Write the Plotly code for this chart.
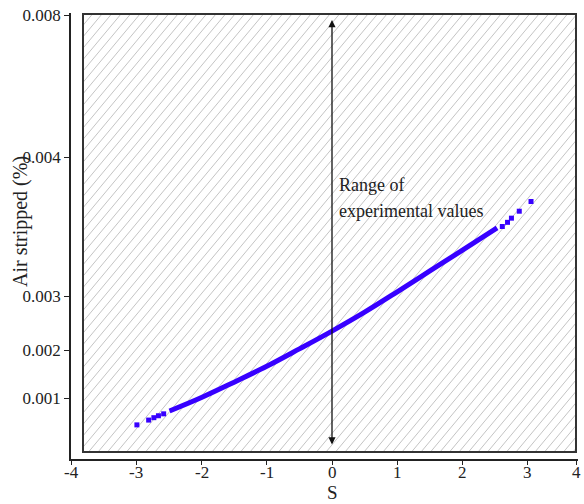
import numpy as np
import plotly.graph_objects as go

# ---- data ----
S_LINE = [-2.49, -2.0, -1.5, -1.0, -0.5, 0.0, 0.5, 1.0, 1.5, 2.0, 2.53]
AIR_LINE = [0.00073, 0.00101, 0.00133, 0.00166, 0.00202, 0.00235, 0.00270,
            0.00303, 0.00318, 0.00333, 0.00349]
S_LOW = [-2.99, -2.81, -2.73, -2.66, -2.58]
AIR_LOW = [0.00044, 0.00054, 0.00059, 0.00063, 0.00067]
S_HIGH = [2.61, 2.69, 2.75, 2.87, 3.05]
AIR_HIGH = [0.00350, 0.00353, 0.00356, 0.00361, 0.00368]

X_TICK_VALUES = [-4, -3, -2, -1, 0, 1, 2, 3, 3.75]
X_TICK_LABELS = ["-4", "-3", "-2", "-1", "0", "1", "2", "3", "4"]
Y_TICK_VALUES = [0.001, 0.002, 0.003, 0.004, 0.008]
Y_TICK_LABELS = ["0.001", "0.002", "0.003", "0.004", "0.008"]

# the (non-uniform) vertical scale of the original chart
Y_SCALE_VALUES = [0.0, 0.001, 0.002, 0.003, 0.004, 0.008]
Y_SCALE_POS = [13, 61, 109, 163, 302, 444]


def yscale(v):
    return np.interp(v, Y_SCALE_VALUES, Y_SCALE_POS)


BLUE = "#3700ff"
FONT = "Liberation Serif"
TXT = "#222222"

fig = go.Figure()

# ---- hatched box (background subplot x/y) ----
W, H = 493.0, 438.0
slope = 1.2
spacing = 9.5
hx, hy = [], []
x0 = -H / slope
while x0 < W:
    hx += [x0 / W, (x0 + H / slope) / W, None]
    hy += [0, 1, None]
    x0 += spacing
fig.add_trace(go.Scatter(x=hx, y=hy, mode="lines", xaxis="x", yaxis="y",
                         line=dict(color="#c4c4c4", width=1),
                         hoverinfo="skip", showlegend=False))
fig.add_shape(type="rect", xref="x domain", yref="y domain", x0=0, x1=1, y0=0, y1=1,
              line=dict(color="#333333", width=2))

# ---- data curve (visible axes x2/y2) ----
fig.add_trace(go.Scatter(x=S_LINE, y=yscale(AIR_LINE), mode="lines",
                         xaxis="x2", yaxis="y2",
                         line=dict(color=BLUE, width=5, shape="spline", smoothing=1.0),
                         showlegend=False))
fig.add_trace(go.Scatter(x=S_LOW + S_HIGH, y=list(yscale(AIR_LOW)) + list(yscale(AIR_HIGH)),
                         mode="markers", xaxis="x2", yaxis="y2",
                         marker=dict(color=BLUE, size=5, symbol="square"),
                         showlegend=False))

# ---- double arrow ----
fig.add_annotation(x=0, y=(459 - 20) / 446, xref="x2", yref="paper",
                   ax=0, ay=426, axref="pixel", ayref="pixel",
                   showarrow=True, arrowhead=2, startarrowhead=2, arrowside="end+start",
                   arrowsize=1.1, arrowwidth=1.3, arrowcolor="#111111", text="")
fig.add_annotation(x=0.07, y=(459 - 185) / 446, xref="x2", yref="paper",
                   xanchor="left", yanchor="middle", align="left", showarrow=False,
                   text="Range of", font=dict(family=FONT, size=18, color=TXT))
fig.add_annotation(x=0.07, y=(459 - 211) / 446, xref="x2", yref="paper",
                   xanchor="left", yanchor="middle", align="left", showarrow=False,
                   text="experimental values", font=dict(family=FONT, size=18, color=TXT))

# ---- x tick labels (placed close to the axis as in the reference) ----
for v, t in zip(X_TICK_VALUES, X_TICK_LABELS):
    fig.add_annotation(x=v, y=(459 - 472) / 446, xref="x2", yref="paper",
                       text=t, showarrow=False, xanchor="center", yanchor="middle",
                       font=dict(family=FONT, size=17, color=TXT))

# ---- axis titles ----
fig.add_annotation(x=(20 - 71) / 507, y=(459 - 222) / 446, xref="paper", yref="paper",
                   text="Air stripped (%)", textangle=-90, showarrow=False,
                   xanchor="center", yanchor="middle",
                   font=dict(family=FONT, size=20, color=TXT))
fig.add_annotation(x=0, y=(459 - 492) / 446, xref="x2", yref="paper",
                   text="S", showarrow=False, xanchor="center", yanchor="middle",
                   font=dict(family=FONT, size=19, color=TXT))

axis_common = dict(showgrid=False, zeroline=False)
fig.update_layout(
    width=584, height=504,
    margin=dict(l=71, r=6, t=13, b=45),
    paper_bgcolor="white", plot_bgcolor="rgba(0,0,0,0)",
    font=dict(family=FONT, size=17, color=TXT),
    xaxis=dict(domain=[(83 - 71) / 507, (576 - 71) / 507], range=[0, 1],
               visible=False, anchor="y", fixedrange=True, **axis_common),
    yaxis=dict(domain=[(459 - 452) / 446, (459 - 14) / 446], range=[0, 1],
               visible=False, anchor="x", fixedrange=True, **axis_common),
    xaxis2=dict(domain=[0, 1], range=[-4, 3.77], anchor="y2",
                tickmode="array", tickvals=X_TICK_VALUES, showticklabels=False,
                showline=True, linecolor="#222222", linewidth=1.5,
                ticks="outside", ticklen=4, tickcolor="#222222", **axis_common),
    yaxis2=dict(domain=[0, 1], range=[0, 446], anchor="x2",
                tickmode="array", tickvals=list(yscale(Y_TICK_VALUES)), ticktext=Y_TICK_LABELS,
                showline=True, linecolor="#222222", linewidth=1.5,
                ticks="outside", ticklen=5, tickcolor="#222222", **axis_common),
)

fig.write_html("out.html", config={"displayModeBar": False},
               post_script="document.body.style.margin='0';")
